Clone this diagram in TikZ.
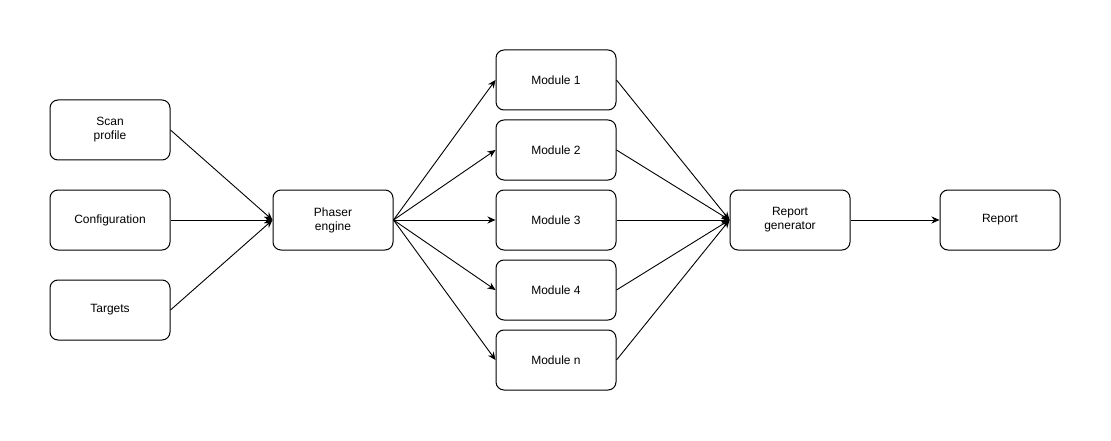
\documentclass[tikz,border=0pt]{standalone}
\usepackage{fontspec}
\setmainfont{Liberation Sans}
\usetikzlibrary{arrows.meta}
\begin{document}
\begin{tikzpicture}[x=1pt,y=-1pt,
  box/.style={draw=black,line width=1pt,rounded corners=8pt,minimum width=120pt,minimum height=60pt,
    inner sep=0pt,align=center,font=\fontsize{12pt}{14pt}\selectfont},
  flow/.style={draw=black,line width=0.9pt,-{Stealth[length=8pt,width=7pt]}}]
  \useasboundingbox (0,0) rectangle (1111,441);
  % inputs
  \node[box] (scan)   at (110,130) {Scan\\profile};
  \node[box] (config) at (110,220) {Configuration};
  \node[box] (targ)   at (110,310) {Targets};
  % engine
  \node[box] (phaser) at (333,220) {Phaser\\engine};
  % modules
  \node[box] (m1) at (556,80)  {Module 1};
  \node[box] (m2) at (556,150) {Module 2};
  \node[box] (m3) at (556,220) {Module 3};
  \node[box] (m4) at (556,290) {Module 4};
  \node[box] (mn) at (556,360) {Module n};
  % output side
  \node[box] (rgen) at (790,220)  {Report\\generator};
  \node[box] (rep)  at (1000,220) {Report};
  % connectors
  \foreach \s in {scan,config,targ}
    \draw[flow] (\s.east) -- (phaser.west);
  \foreach \m in {m1,m2,m3,m4,mn}{
    \draw[flow] (phaser.east) -- (\m.west);
    \draw[flow] (\m.east) -- (rgen.west);
  }
  \draw[flow] (rgen.east) -- (rep.west);
\end{tikzpicture}
\end{document}
